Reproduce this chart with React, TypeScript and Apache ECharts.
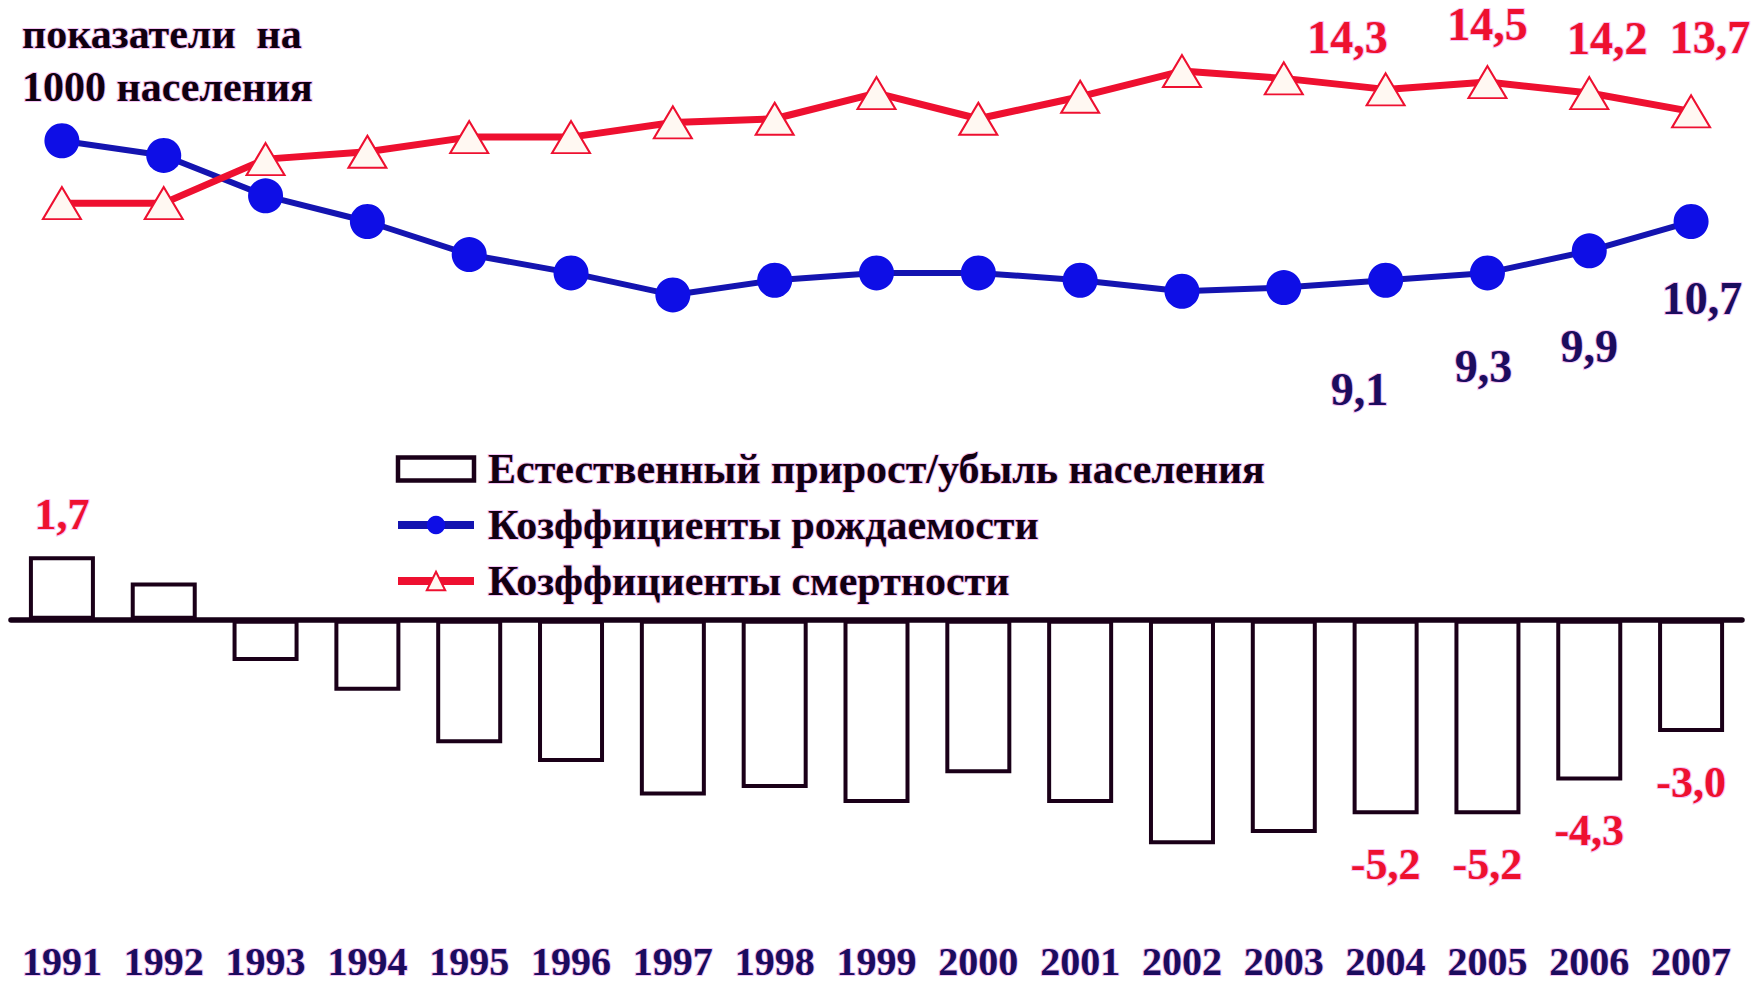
import React, { useEffect, useRef } from "react";
import * as echarts from "echarts";

const years = ["1991","1992","1993","1994","1995","1996","1997","1998","1999","2000","2001","2002","2003","2004","2005","2006","2007"];
const birthRate = [12.9, 12.5, 11.4, 10.7, 9.8, 9.3, 8.7, 9.1, 9.3, 9.3, 9.1, 8.8, 8.9, 9.1, 9.3, 9.9, 10.7];
const deathRate = [11.2, 11.2, 12.4, 12.6, 13.0, 13.0, 13.4, 13.5, 14.2, 13.5, 14.1, 14.8, 14.6, 14.3, 14.5, 14.2, 13.7];
const naturalGrowth = [1.7, 1.0, -1.1, -1.9, -3.3, -3.8, -4.7, -4.5, -4.9, -4.1, -4.9, -6.0, -5.7, -5.2, -5.2, -4.3, -3.0];

const seriesNames = [
  "Естественный прирост/убыль населения",
  "Козффициенты рождаемости",
  "Козффициенты смертности",
];
const titleText = "показатели  на\n1000 населения";

// indices with shown value labels, and their label offsets (styling)
const birthLabelOffsets: Record<number, [number, number]> = { 13: [-26, 109], 14: [-4, 94], 15: [0, 96], 16: [11, 77] };
const deathLabelOffsets: Record<number, [number, number]> = { 13: [-38, -52], 14: [0, -58], 15: [18, -55], 16: [19, -74] };
const growthLabelIdx = [0, 13, 14, 15, 16];

const FONT = '"Liberation Serif", "DejaVu Serif", serif';
const RED = "#ee1030";
const NAVY = "#1c0c5e";
const halo = { textBorderColor: "#f5c4f5", textBorderWidth: 2 };
const fmt = (v: number) => v.toFixed(1).replace(".", ",");

export default function App() {
  const ref = useRef<HTMLDivElement>(null);
  useEffect(() => {
    if (!ref.current) return;
    const chart = echarts.init(ref.current, null, { renderer: "svg" });

    const birthData = birthRate.map((v, i) =>
      birthLabelOffsets[i]
        ? { value: v, label: { show: true, position: "inside", offset: birthLabelOffsets[i], formatter: fmt(v) } }
        : v
    );
    const deathData = deathRate.map((v, i) =>
      deathLabelOffsets[i]
        ? { value: v, label: { show: true, position: "inside", offset: deathLabelOffsets[i], formatter: fmt(v) } }
        : v
    );
    const growthData = naturalGrowth.map((v, i) =>
      growthLabelIdx.includes(i)
        ? { value: v, label: { show: true, position: "outside", distance: v > 0 ? 20 : 28, formatter: fmt(v) } }
        : v
    );

    chart.setOption({
      animation: false,
      backgroundColor: "#ffffff",
      title: {
        text: titleText,
        left: 22,
        top: 7,
        padding: 0,
        textStyle: {
          fontFamily: FONT,
          fontWeight: "bold",
          fontSize: 42,
          lineHeight: 53,
          color: "#100010",
          ...halo,
        },
      },
      legend: {
        orient: "vertical",
        left: 394,
        top: 447,
        padding: 0,
        itemWidth: 76,
        itemHeight: 23,
        itemGap: 12,
        lineStyle: { width: 8 },
        data: [
          { name: seriesNames[0], icon: "rect", itemStyle: { borderWidth: 4.5 } },
          { name: seriesNames[1] },
          { name: seriesNames[2] },
        ],
        textStyle: {
          fontFamily: FONT,
          fontWeight: "bold",
          fontSize: 42,
          color: "#120012",
          padding: [0, 0, 0, 9],
          ...halo,
        },
      },
      grid: [
        { left: 11, right: 22, top: 27, height: 367, outerBoundsMode: "none", containLabel: false },
        { left: 11, right: 22, top: 545, height: 336.6, outerBoundsMode: "none", containLabel: false },
      ],
      xAxis: [
        { type: "category", gridIndex: 0, data: years, show: false, boundaryGap: true },
        {
          type: "category",
          gridIndex: 1,
          data: years,
          boundaryGap: true,
          axisLine: { show: true, onZero: true, lineStyle: { color: "#160016", width: 5.5 } },
          axisTick: { show: false },
          axisLabel: { show: false },
        },
        {
          type: "category",
          gridIndex: 1,
          data: years,
          position: "bottom",
          boundaryGap: true,
          axisLine: { show: false, onZero: false },
          axisTick: { show: false },
          axisLabel: {
            show: true,
            interval: 0,
            hideOverlap: false,
            margin: 62,
            fontFamily: FONT,
            fontWeight: "bold",
            fontSize: 40,
            lineHeight: 36,
            color: NAVY,
            ...halo,
          },
        },
      ],
      yAxis: [
        { type: "value", gridIndex: 0, min: 6, max: 16, show: false, splitLine: { show: false } },
        { type: "value", gridIndex: 1, min: -7, max: 2, show: false, splitLine: { show: false } },
      ],
      series: [
        {
          name: seriesNames[0],
          type: "bar",
          xAxisIndex: 1,
          yAxisIndex: 1,
          barWidth: 66,
          data: growthData,
          itemStyle: { color: "#ffffff", borderColor: "#1a0018", borderWidth: 4 },
          label: {
            show: false,
            fontFamily: FONT,
            fontWeight: "bold",
            fontSize: 44,
            color: RED,
            ...halo,
          },
          z: 1,
        },
        {
          name: seriesNames[1],
          type: "line",
          xAxisIndex: 0,
          yAxisIndex: 0,
          data: birthData,
          symbol: "circle",
          symbolSize: 35,
          lineStyle: { color: "#1414b0", width: 6 },
          itemStyle: { color: "#0e0ee6", borderColor: "#0e0ee6", borderWidth: 0 },
          label: {
            show: false,
            fontFamily: FONT,
            fontWeight: "bold",
            fontSize: 46,
            lineHeight: 40,
            color: NAVY,
            ...halo,
          },
          z: 3,
        },
        {
          name: seriesNames[2],
          type: "line",
          xAxisIndex: 0,
          yAxisIndex: 0,
          data: deathData,
          symbol: "triangle",
          symbolSize: [38, 32],
          lineStyle: { color: RED, width: 7 },
          itemStyle: { color: "#fff8f2", borderColor: RED, borderWidth: 2 },
          label: {
            show: false,
            fontFamily: FONT,
            fontWeight: "bold",
            fontSize: 46,
            lineHeight: 40,
            color: RED,
            ...halo,
          },
          z: 4,
        },
      ],
    });
    return () => chart.dispose();
  }, []);
  return (
    <div
      ref={ref}
      style={{ position: "fixed", left: 0, top: 0, width: 1764, height: 989, background: "#fff" }}
    />
  );
}
